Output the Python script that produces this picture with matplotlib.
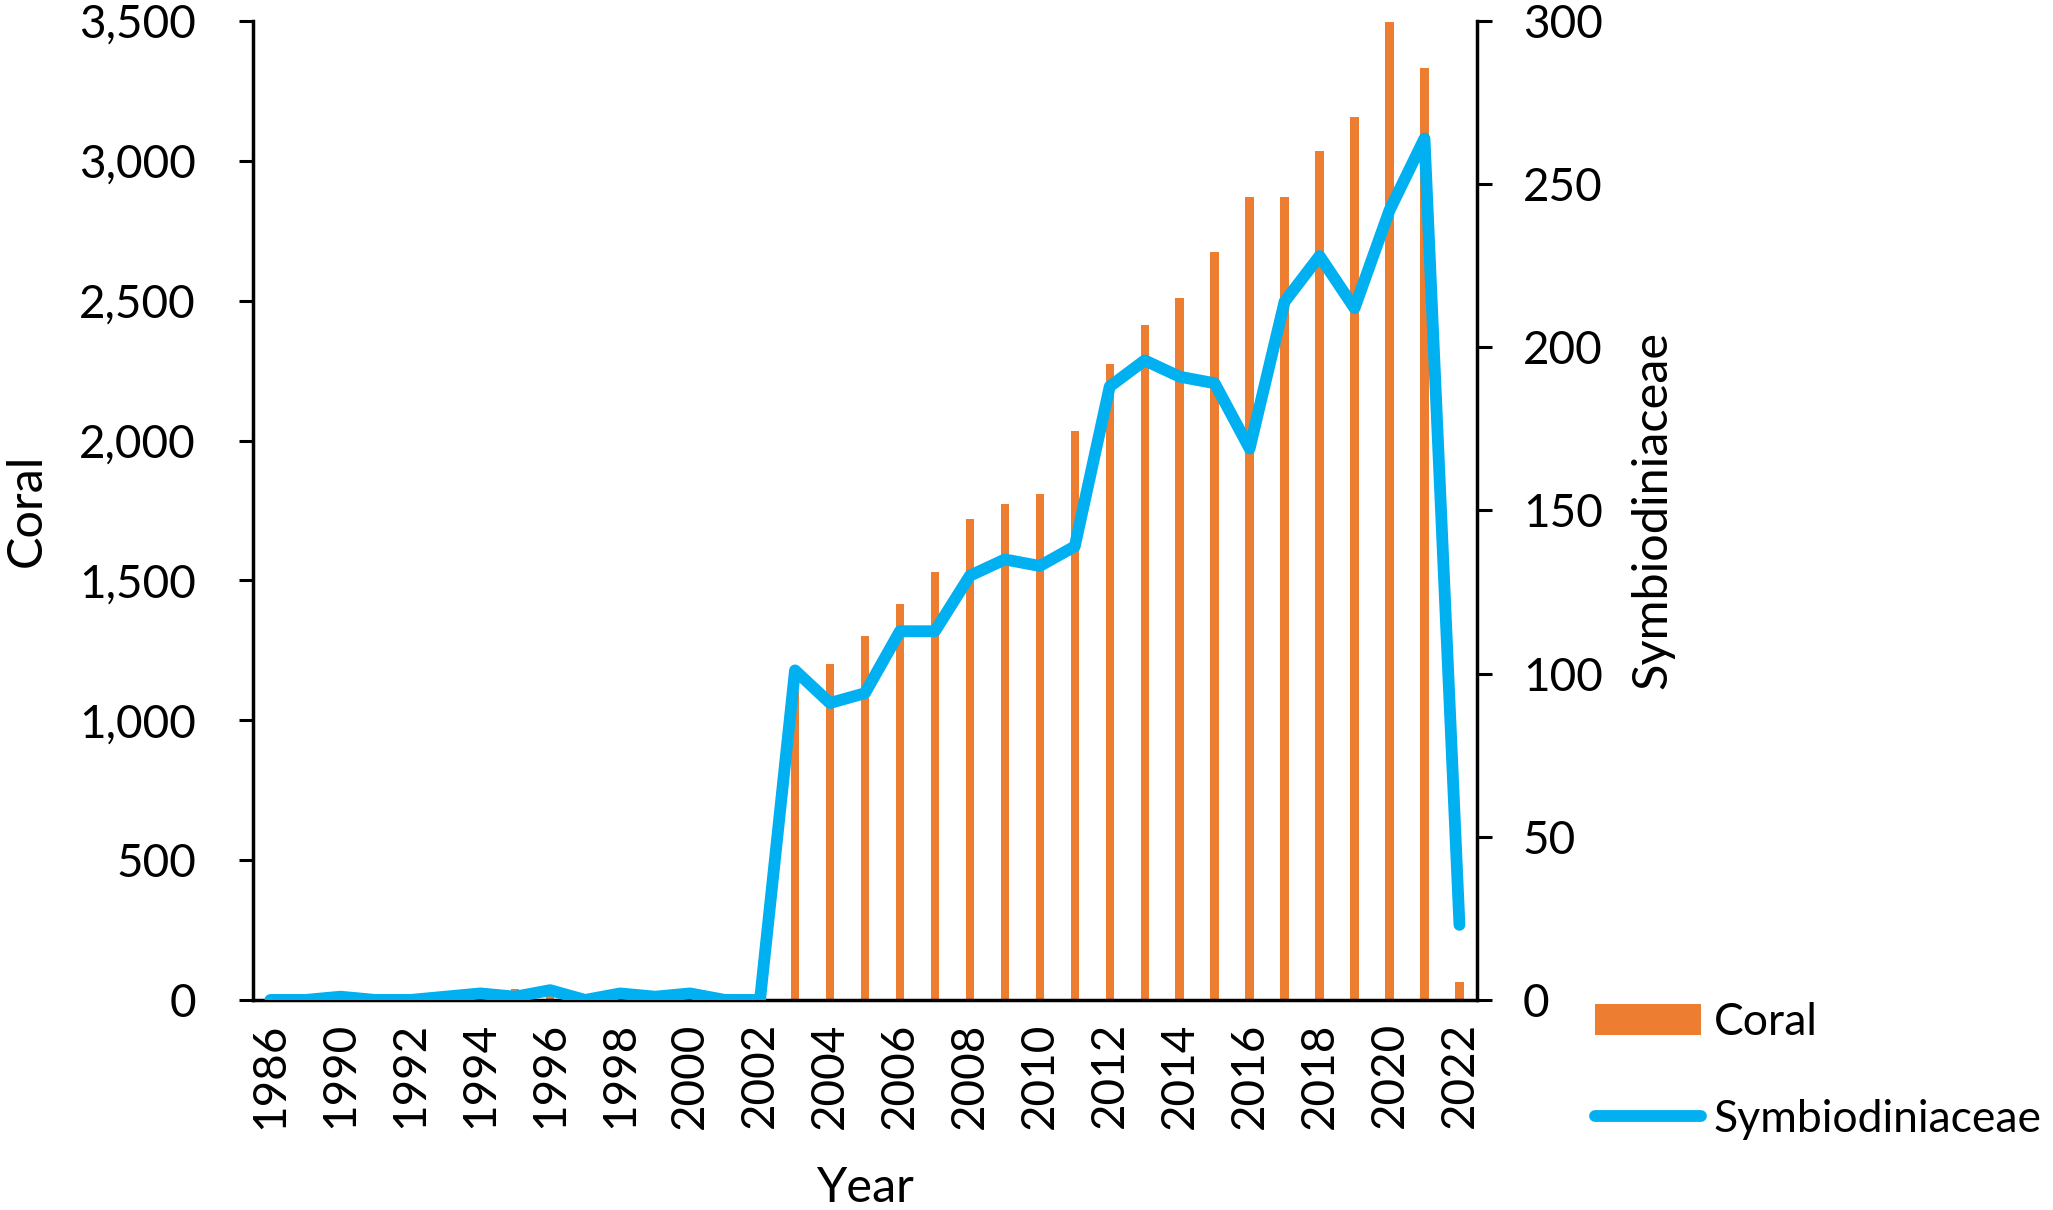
import matplotlib
matplotlib.use('Agg')
import matplotlib.pyplot as plt
from matplotlib.ticker import FuncFormatter

# data
years = ['1986', '1989', '1990', '1991', '1992', '1993', '1994', '1995', '1996',
         '1997', '1998', '1999', '2000', '2001', '2002', '2003', '2004', '2005',
         '2006', '2007', '2008', '2009', '2010', '2011', '2012', '2013', '2014',
         '2015', '2016', '2017', '2018', '2019', '2020', '2021', '2022']
coral = [0, 0, 0, 0, 0, 5, 8, 38, 15, 21, 10, 33, 38, 21, 0, 1100, 1200, 1301,
         1415, 1529, 1721, 1775, 1809, 2036, 2275, 2415, 2508, 2674, 2872, 2872,
         3036, 3156, 3497, 3331, 65]
symbio = [0, 0, 1, 0, 0, 1, 2, 1, 3, 0, 2, 1, 2, 0, 0, 101, 91, 94, 113, 113,
          130, 135, 133, 139, 188, 196, 191, 189, 169, 214, 228, 212, 242, 264, 23]

left_ticks = [0, 500, 1000, 1500, 2000, 2500, 3000, 3500]
right_ticks = [0, 50, 100, 150, 200, 250, 300]

plt.rcParams['font.family'] = ['Lato', 'DejaVu Sans']
FS = 33     # tick labels
FS_T = 35   # axis titles
FS_L = 32   # legend

fig = plt.figure(figsize=(20.53, 12.10), dpi=100)
ax = fig.add_axes([0.1232, 0.1736, 0.5962, 0.809])
ax2 = ax.twinx()

x = list(range(len(years)))
ax.bar(x, coral, width=0.24, color='#ED7D31', label='Coral')
ax2.plot(x, symbio, color='#00B0F0', lw=8.5, solid_capstyle='round',
         solid_joinstyle='round', label='Symbiodiniaceae')

ax.set_xlim(-0.5, len(years) - 0.5)
ax.set_ylim(0, 3500)
ax2.set_ylim(0, 300)
ax.set_yticks(left_ticks)
ax2.set_yticks(right_ticks)
ax.yaxis.set_major_formatter(FuncFormatter(lambda v, p: f'{int(v):,}'))

ax.set_xticks(x)
ax.set_xticklabels([y if i % 2 == 0 else '' for i, y in enumerate(years)],
                   rotation=90, fontsize=FS)

for a in (ax, ax2):
    a.spines['top'].set_visible(False)
    for s in a.spines.values():
        s.set_linewidth(2.5)
ax.spines['right'].set_visible(False)
ax2.spines['left'].set_visible(False)
ax2.spines['bottom'].set_visible(False)

ax.tick_params(axis='x', length=0, pad=16)
ax.tick_params(axis='y', labelsize=FS, length=10, width=2.2, pad=31)
ax2.tick_params(axis='y', labelsize=FS, length=11, width=2.2, pad=22)

ax.set_ylabel('Coral', fontsize=FS_T, labelpad=22)
ax2.set_ylabel('Symbiodiniaceae', fontsize=FS_T, labelpad=20)
ax.set_xlabel('Year', fontsize=FS_T, labelpad=27)

h1, l1 = ax.get_legend_handles_labels()
h2, l2 = ax2.get_legend_handles_labels()
fig.legend(h1 + h2, l1 + l2, loc='upper left', bbox_to_anchor=(0.766, 0.19),
           frameon=False, fontsize=FS_L, borderpad=0, handlelength=2.4,
           handletextpad=0.27, labelspacing=1.25)

plt.savefig('out.png', dpi=100)
plt.close()
